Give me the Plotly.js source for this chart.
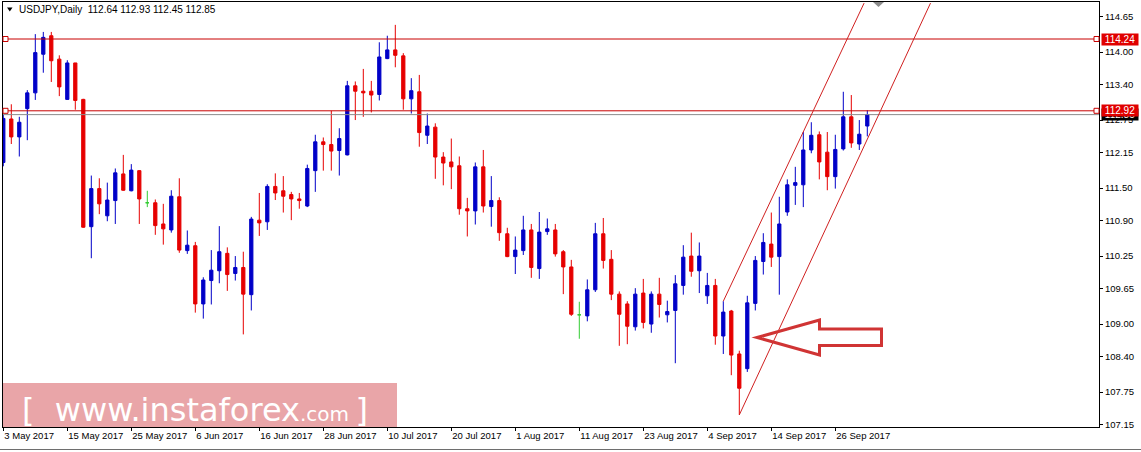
<!DOCTYPE html>
<html><head><meta charset="utf-8">
<script src="https://cdn.plot.ly/plotly-3.0.1.min.js"></script>
<style>html,body{margin:0;padding:0;background:#fff;}#chart{width:1141px;height:452px;}</style>
</head><body><div id="chart"></div>
<script>
const dates = [
"2017-05-03","2017-05-04","2017-05-05","2017-05-08","2017-05-09","2017-05-10","2017-05-11","2017-05-12",
"2017-05-15","2017-05-16","2017-05-17","2017-05-18","2017-05-19","2017-05-22","2017-05-23","2017-05-24",
"2017-05-25","2017-05-26","2017-05-29","2017-05-30","2017-05-31","2017-06-01","2017-06-02","2017-06-05",
"2017-06-06","2017-06-07","2017-06-08","2017-06-09","2017-06-12","2017-06-13","2017-06-14","2017-06-15",
"2017-06-16","2017-06-19","2017-06-20","2017-06-21","2017-06-22","2017-06-23","2017-06-26","2017-06-27",
"2017-06-28","2017-06-29","2017-06-30","2017-07-03","2017-07-04","2017-07-05","2017-07-06","2017-07-07",
"2017-07-10","2017-07-11","2017-07-12","2017-07-13","2017-07-14","2017-07-17","2017-07-18","2017-07-19",
"2017-07-20","2017-07-21","2017-07-24","2017-07-25","2017-07-26","2017-07-27","2017-07-28","2017-07-31",
"2017-08-01","2017-08-02","2017-08-03","2017-08-04","2017-08-07","2017-08-08","2017-08-09","2017-08-10",
"2017-08-11","2017-08-14","2017-08-15","2017-08-16","2017-08-17","2017-08-18","2017-08-21","2017-08-22",
"2017-08-23","2017-08-24","2017-08-25","2017-08-28","2017-08-29","2017-08-30","2017-08-31","2017-09-01",
"2017-09-04","2017-09-05","2017-09-06","2017-09-07","2017-09-08","2017-09-11","2017-09-12","2017-09-13",
"2017-09-14","2017-09-15","2017-09-18","2017-09-19","2017-09-20","2017-09-21","2017-09-22","2017-09-25",
"2017-09-26","2017-09-27","2017-09-28","2017-09-29","2017-10-02"];

const open = [
111.97,112.77,112.44,112.96,113.25,113.96,114.30,113.87,113.13,113.80,113.13,110.79,111.49,110.99,111.27,111.76,
111.45,111.82,111.23,111.23,110.84,110.73,111.34,110.35,110.44,109.37,109.80,109.98,110.30,109.93,110.04,109.54,
110.91,110.88,111.53,111.45,111.38,111.30,111.17,111.82,112.35,112.30,112.19,112.11,113.38,113.28,113.28,113.22,
113.88,114.04,113.93,113.14,113.27,112.47,112.62,112.07,111.98,111.91,111.12,111.08,111.89,111.16,111.27,110.66,
110.24,110.35,110.73,110.02,110.70,110.73,110.33,110.05,109.17,109.15,109.63,110.66,110.19,109.55,109.37,108.95,
109.57,109.00,109.55,109.17,109.25,109.71,110.25,109.98,109.52,109.71,108.78,109.24,108.45,108.18,109.38,110.15,
110.47,110.24,111.06,111.55,111.56,112.20,112.48,112.16,111.71,112.22,112.81,112.31,112.64];
const high = [
112.85,113.04,112.81,113.30,114.33,114.37,114.37,113.94,113.85,113.80,113.14,111.73,111.68,111.60,111.86,112.11,
111.94,111.83,111.45,111.29,111.21,111.46,111.68,110.72,110.51,109.86,110.36,110.80,110.41,110.25,110.33,110.97,
111.41,111.57,111.77,111.72,111.43,111.41,111.93,112.48,112.43,112.92,112.60,113.47,113.46,113.69,113.47,114.18,
114.30,114.50,113.98,113.52,113.58,112.87,112.69,112.16,112.41,112.08,111.32,111.97,112.20,111.72,111.33,110.77,
110.61,110.99,110.84,111.06,110.94,110.84,110.36,110.18,109.41,109.82,110.86,110.95,110.36,109.60,109.42,109.66,
109.83,109.60,109.85,109.43,109.90,110.45,110.68,110.50,109.94,109.83,109.42,109.26,108.51,109.52,110.25,110.67,
111.05,111.34,111.66,111.89,112.53,112.71,112.54,112.53,112.48,113.27,113.21,112.75,112.93];
const low = [
111.90,112.31,112.08,112.38,113.12,113.62,113.45,113.19,113.12,112.94,110.77,110.21,111.02,110.89,110.84,111.45,
111.44,110.84,111.15,110.64,110.46,110.68,110.31,110.29,109.21,109.10,109.36,109.75,109.61,109.80,108.81,109.25,
110.62,110.73,111.28,111.05,110.91,111.12,111.15,111.43,111.82,111.82,111.73,112.10,112.75,112.81,112.89,113.11,
113.87,113.72,112.94,112.87,112.26,112.31,111.67,111.55,111.48,111.01,110.61,110.83,111.05,110.79,110.53,110.23,
109.92,110.27,109.85,109.83,110.64,110.24,109.55,109.15,108.73,109.05,109.59,110.02,109.44,108.60,108.63,108.88,
108.92,108.84,109.12,109.03,108.28,109.54,109.87,109.57,109.37,108.62,108.45,108.06,107.33,108.12,109.25,109.91,
110.05,109.54,110.99,111.19,111.15,112.14,111.66,111.46,111.49,112.19,112.24,112.20,112.45];
const close = [
112.78,112.44,112.71,113.25,113.99,114.27,113.84,113.36,113.80,113.11,110.78,111.49,111.21,111.28,111.78,111.46,
111.83,111.30,111.23,110.81,110.75,111.35,110.36,110.45,109.37,109.81,109.99,110.33,109.91,110.04,109.55,110.93,
110.86,111.53,111.41,111.35,111.30,111.27,111.86,112.35,112.30,112.18,112.41,113.38,113.28,113.25,113.21,113.91,
114.04,113.94,113.14,113.29,112.52,112.64,112.07,111.96,111.89,111.12,111.08,111.89,111.17,111.27,110.68,110.24,
110.36,110.73,110.04,110.69,110.75,110.29,110.05,109.18,109.17,109.63,110.66,110.17,109.55,109.18,108.96,109.55,
109.03,109.55,109.36,109.23,109.74,110.23,109.97,110.25,109.71,108.78,109.22,108.43,107.82,109.39,110.17,110.50,
110.23,110.84,111.56,111.60,112.20,112.47,111.98,111.71,112.21,112.81,112.33,112.49,112.85];

const tickDates = ["2017-05-03","2017-05-15","2017-05-25","2017-06-06","2017-06-16","2017-06-28","2017-07-10",
  "2017-07-20","2017-08-01","2017-08-11","2017-08-23","2017-09-04","2017-09-14","2017-09-26"];
const tickLabels = ["3 May 2017","15 May 2017","25 May 2017","6 Jun 2017","16 Jun 2017","28 Jun 2017","10 Jul 2017",
  "20 Jul 2017","1 Aug 2017","11 Aug 2017","23 Aug 2017","4 Sep 2017","14 Sep 2017","26 Sep 2017"];
const yTicks = [114.65,114.00,113.40,112.75,112.15,111.50,110.90,110.25,109.65,109.00,108.40,107.75,107.15];
const levelLines = [114.24, 112.92];
const bidPrice = 112.85;
const symbolTitle = "USDJPY,Daily";
const headerOHLC = ["112.64","112.93","112.45","112.85"];
const channelLower = [[92, 107.33], [115.9, 114.90]];
const channelUpper = [[90, 109.42], [107.6, 114.90]];
const watermark = "www.instaforex";

// plot geometry (pixels)
const W = 1141, H = 452, L = 3, R = 1099, T = 2, B = 427;
const px = x => (x - L) / (R - L);
const py = y => (B - y) / (B - T);

const isDoji = i => open[i] === close[i];
const idxMain = dates.map((d, i) => i).filter(i => !isDoji(i));
const idxDoji = dates.map((d, i) => i).filter(i => isDoji(i));
const pick = (arr, idx) => idx.map(i => arr[i]);

const BLUE = '#0000C8', RED = '#E60000', GREEN = '#33CC33', LINE = '#C80000';

const traces = [
  {
    type: 'candlestick', x: pick(dates, idxMain),
    open: pick(open, idxMain), high: pick(high, idxMain), low: pick(low, idxMain), close: pick(close, idxMain),
    increasing: {line: {color: BLUE, width: 1}, fillcolor: BLUE},
    decreasing: {line: {color: RED, width: 1}, fillcolor: RED},
    whiskerwidth: 0, hoverinfo: 'skip', showlegend: false
  },
  {
    type: 'candlestick', x: pick(dates, idxDoji),
    open: pick(open, idxDoji), high: pick(high, idxDoji), low: pick(low, idxDoji), close: pick(close, idxDoji),
    increasing: {line: {color: GREEN, width: 1}, fillcolor: GREEN},
    decreasing: {line: {color: GREEN, width: 1}, fillcolor: GREEN},
    whiskerwidth: 0, hoverinfo: 'skip', showlegend: false
  }
];

const shapes = [];
shapes.push({type: 'rect', xref: 'paper', yref: 'paper', x0: px(3), x1: px(397), y0: py(427), y1: py(383),
  fillcolor: '#E9A5A8', line: {width: 0}, layer: 'below'});
levelLines.forEach(v => {
  shapes.push({type: 'line', xref: 'paper', yref: 'y', x0: 0, x1: 1, y0: v, y1: v, line: {color: LINE, width: 1}});
});
shapes.push({type: 'line', xref: 'paper', yref: 'y', x0: 0, x1: 1, y0: bidPrice, y1: bidPrice, line: {color: '#8C8C8C', width: 1}});
levelLines.forEach(v => {
  const d = 2.5 / 54.4;
  [[3, 8], [1094, 1099]].forEach(([a, b]) => {
    shapes.push({type: 'rect', xref: 'paper', yref: 'y', x0: px(a), x1: px(b), y0: v - d, y1: v + d,
      fillcolor: '#fff', line: {color: LINE, width: 1}});
  });
});
[channelLower, channelUpper].forEach(c => {
  shapes.push({type: 'line', xref: 'x', yref: 'y', x0: c[0][0], y0: c[0][1], x1: c[1][0], y1: c[1][1],
    line: {color: '#D02020', width: 1}});
});
const arrowPts = [[757, 337.5], [819.5, 320], [819.5, 329], [881.5, 329], [881.5, 345.5], [819.5, 345.5], [819.5, 355]];
shapes.push({type: 'path', xref: 'paper', yref: 'paper',
  path: 'M' + arrowPts.map(p => px(p[0]).toFixed(5) + ',' + py(p[1]).toFixed(5)).join(' L') + ' Z',
  line: {color: '#D03434', width: 3}, fillcolor: 'rgba(0,0,0,0)'});
shapes.push({type: 'path', xref: 'paper', yref: 'paper',
  path: `M${px(7)},${py(7.5)} L${px(12.5)},${py(7.5)} L${px(9.75)},${py(11.5)} Z`,
  fillcolor: '#000', line: {width: 0}});
shapes.push({type: 'path', xref: 'paper', yref: 'paper',
  path: `M${px(873)},${py(2)} L${px(884)},${py(2)} L${px(878.5)},${py(7)} Z`,
  fillcolor: '#8C8C8C', line: {width: 0}});
shapes.push({type: 'line', xref: 'paper', yref: 'paper', x0: px(0), x1: px(1141), y0: py(449.5), y1: py(449.5),
  line: {color: '#6E6E6E', width: 1}});

const font = '"Liberation Sans", Arial, sans-serif';
const labelBox = (text, y, bg) => ({xref: 'paper', yref: 'y', x: px(1100.5), y: y, xanchor: 'left', yanchor: 'middle',
  showarrow: false, text: text, bgcolor: bg, borderpad: 0, width: 36, height: 11, align: 'center',
  font: {family: font, size: 10, color: '#fff'}});
const annotations = [
  {xref: 'paper', yref: 'paper', x: px(17), y: py(9.5), xanchor: 'left', yanchor: 'middle', showarrow: false,
   text: symbolTitle + '\u00a0\u00a0' + headerOHLC.join(' '), font: {family: font, size: 10, color: '#000'}},
  {xref: 'paper', yref: 'paper', x: px(20), y: py(410), xanchor: 'left', yanchor: 'middle', showarrow: false,
   text: '[\u00a0\u00a0' + watermark + '<span style="font-size:20px">.com\u00a0</span>]',
   font: {family: '"DejaVu Sans", Verdana, sans-serif', size: 32, color: '#ffffff'}},
  labelBox(bidPrice.toFixed(2), bidPrice, '#000')
];
levelLines.forEach(v => annotations.push(labelBox(v.toFixed(2), v, '#E00000')));

const layout = {
  width: W, height: H,
  margin: {l: L, r: W - R, t: T, b: H - B, autoexpand: false},
  paper_bgcolor: '#fff', plot_bgcolor: '#fff', showlegend: false,
  boxgap: 0.42,
  font: {family: font, size: 9.5, color: '#000'},
  xaxis: {
    type: 'category', categoryorder: 'array', categoryarray: dates,
    range: [(L - 3.3) / 8, (R - 3.3) / 8], rangeslider: {visible: false},
    tickmode: 'array', tickvals: tickDates, ticktext: tickLabels,
    ticks: 'outside', ticklen: 3, tickcolor: '#000', ticklabelposition: 'outside right',
    tickfont: {family: font, size: 9.5, color: '#000'},
    showgrid: false, zeroline: false, showline: true, linecolor: '#000', linewidth: 1, mirror: true, fixedrange: true
  },
  yaxis: {
    side: 'right', range: [114.65 - (B - 16.7) / 54.4, 114.65 + (16.7 - T) / 54.4],
    tickmode: 'array', tickvals: yTicks, ticktext: yTicks.map(v => v.toFixed(2)),
    ticks: 'outside', ticklen: 3, tickcolor: '#000',
    tickfont: {family: font, size: 9.5, color: '#000'},
    showgrid: false, zeroline: false, showline: true, linecolor: '#000', linewidth: 1, mirror: true, fixedrange: true
  },
  shapes: shapes, annotations: annotations
};

Plotly.newPlot('chart', traces, layout, {staticPlot: true, displayModeBar: false});
</script>
</body></html>
